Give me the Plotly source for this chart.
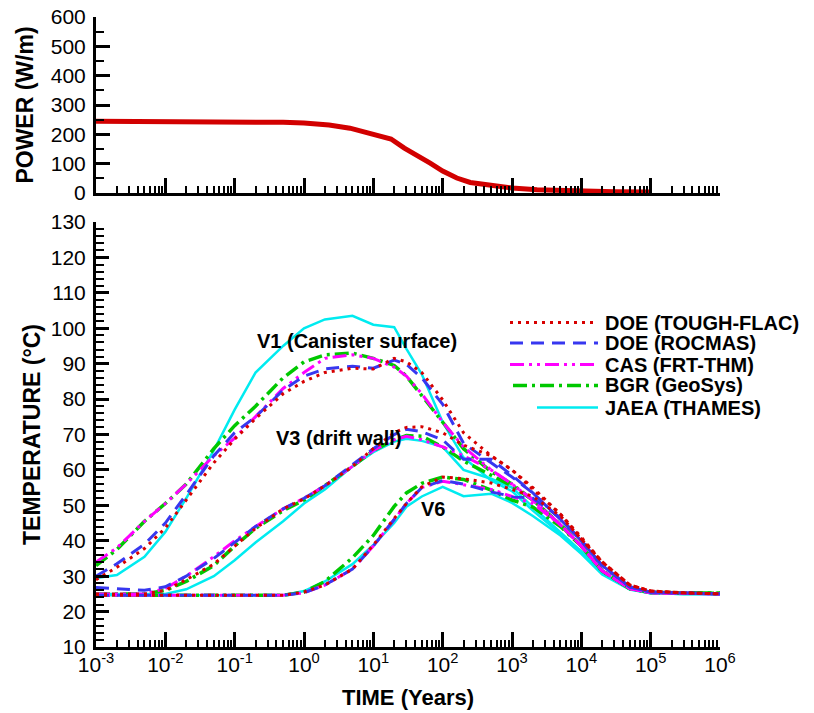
import plotly.graph_objects as go

# Heat output of the canister
power_time = [0.001, 0.01, 0.1, 0.5, 1, 2.3, 4.6, 10, 18, 28, 43, 66, 100, 160,
              250, 500, 1000, 2300, 5600, 1e4, 3e4, 1e5]
power_wm = [245, 245, 244, 241, 239, 232, 221, 198, 184, 153, 125, 102, 75, 51,
            36, 25, 17, 11, 8, 6, 4, 3]

# Time points (years) shared by all temperature curves
time_yr = [0.001, 0.002, 0.005, 0.01, 0.02, 0.05, 0.1, 0.2, 0.5, 1, 2, 5, 10, 20, 30,
           50, 100, 200, 500, 1e3, 2e3, 5e3, 1e4, 2e4, 5e4, 1e5, 3e5, 1e6]

# V1 (canister surface)
v1_doe_tf = [29, 32.5, 37.8, 43.6, 51.5, 62, 68.7, 74.5, 81.5, 85, 87.5, 88.7, 88.5, 91.5,
             90.5, 87.5, 79.8, 70.5, 64, 60, 54.5, 47.5, 40.5, 34, 27.5, 25.8, 25.3, 25]
v1_doe_rocmas = [30, 33.5, 39, 45, 53, 64, 70.5, 75, 82.5, 86.5, 88.5, 89.3, 88.7, 91,
                 89.8, 86, 78.5, 67.5, 62, 58, 53.5, 46, 40, 33, 27, 25.5, 25.2, 25]
v1_cas = [34, 38, 45.5, 50.5, 56, 64, 69, 75, 83, 87.5, 91.5, 92.5, 91.5, 89,
          86.5, 81.5, 73.5, 66.5, 60, 56, 51.5, 44.5, 38.5, 31.5, 26.5, 25.3, 25.1, 25]
v1_bgr = [33, 37.5, 45.5, 50.5, 56, 66, 72.5, 78, 86, 90.5, 92.5, 93, 91.5, 89.5,
          86.5, 81, 73.5, 66, 59.5, 56, 51.5, 44.5, 38.5, 31.5, 26.5, 25.4, 25.2, 25.2]
v1_jaea = [29.5, 30.3, 35.5, 42.5, 52, 65.5, 77, 87.5, 95, 100, 102.5, 103.5, 101, 100.3,
           94.2, 87, 73.5, 63.5, 57, 54, 48.5, 42, 36.8, 30.8, 26.3, 25.2, 25, 25]

# V3 (drift wall)
v3_doe_tf = [25, 25, 25, 26, 29, 33.4, 38.5, 43.5, 49, 51.8, 55.5, 61, 66, 70.5,
             72, 72.2, 70.5, 67, 64, 60, 55, 47.5, 41, 34, 27.5, 25.8, 25.3, 25]
v3_doe_rocmas = [26.8, 26.5, 26, 27, 30, 35, 39.5, 44, 49, 52, 55.5, 61.5, 66, 70,
                 71.5, 70.8, 68.5, 63, 63, 58.5, 53.5, 46, 40, 33, 27, 25.5, 25.2, 25]
v3_cas = [25, 25, 25, 26.5, 30, 35.5, 40, 44, 49, 52, 55.5, 61, 65.5, 68.5,
          69.5, 68.5, 66.5, 64, 60, 56, 51.5, 44.5, 38.5, 31.5, 26.5, 25.3, 25.1, 25]
v3_bgr = [25, 25, 25, 26, 28.5, 33, 38.5, 43.5, 48.5, 51.5, 55.5, 61, 65.5, 68.5,
          69.7, 69.5, 66.5, 62.5, 58.5, 55.5, 51.5, 44.5, 38.5, 31.5, 26.5, 25.4, 25.2, 25.2]
v3_jaea = [25, 25, 25, 25, 26.3, 30, 34.5, 39.5, 45.5, 50.5, 54.5, 61, 65, 68,
           68.8, 68.2, 66.5, 60, 57.5, 55, 49.5, 42.5, 37, 31, 26.4, 25.2, 25, 25]

# V6
v6_doe_tf = [24.6, 24.6, 24.6, 24.6, 24.6, 24.6, 24.6, 24.6, 24.6, 25.5, 27.5, 32, 38.8, 46.3,
             50.5, 55.2, 58, 57.5, 56.3, 54.5, 52.5, 47, 40.5, 34, 27.5, 25.8, 25.3, 25]
v6_doe_rocmas = [24.6, 24.6, 24.6, 24.6, 24.6, 24.6, 24.6, 24.6, 24.6, 25.3, 27.5, 32, 38.5, 46,
                 50.5, 55, 57, 56, 53.8, 52.5, 52, 46.5, 40, 33, 27, 25.5, 25.2, 25]
v6_cas = [24.6, 24.6, 24.6, 24.6, 24.6, 24.6, 24.6, 24.6, 24.6, 25.3, 27.5, 32, 38.5, 46,
          50.5, 55, 56.8, 55.8, 54.5, 52.5, 50.5, 44.5, 38.5, 31.5, 26.5, 25.3, 25.1, 25]
v6_bgr = [24.6, 24.6, 24.6, 24.6, 24.6, 24.6, 24.6, 24.6, 24.6, 25.5, 28.5, 35.2, 41.5, 49.7,
          53.5, 56.2, 58, 57.3, 54.3, 51.5, 49.5, 44, 38.5, 31.5, 26.5, 25.4, 25.2, 25.2]
v6_jaea = [24.6, 24.6, 24.6, 24.6, 24.6, 24.6, 24.6, 24.6, 24.6, 25.8, 28.5, 33.4, 38.8, 45,
           49.6, 52.5, 55.2, 52.6, 53.3, 50.7, 47, 41.5, 36.3, 30.5, 26.2, 25.2, 25, 25]

decades = [1e-3, 1e-2, 1e-1, 1, 10, 100, 1e3, 1e4, 1e5, 1e6]
decade_labels = ['10<sup>-3</sup>', '10<sup>-2</sup>', '10<sup>-1</sup>', '10<sup>0</sup>',
                 '10<sup>1</sup>', '10<sup>2</sup>', '10<sup>3</sup>', '10<sup>4</sup>',
                 '10<sup>5</sup>', '10<sup>6</sup>']
minor_vals = [m * d for d in decades[:-1] for m in range(2, 10)]

FONT = 'Liberation Sans, Arial, sans-serif'

# name, colour, dash, width, (V1, V3, V6) -- listed in legend order
models = [
    ('DOE (TOUGH-FLAC)', 'rgb(215,0,0)', '3px,5px', 3, (v1_doe_tf, v3_doe_tf, v6_doe_tf)),
    ('DOE (ROCMAS)', 'rgb(55,55,240)', '13px,8px', 3, (v1_doe_rocmas, v3_doe_rocmas, v6_doe_rocmas)),
    ('CAS (FRT-THM)', 'rgb(255,0,255)', '14px,5px,3px,5px,3px,5px', 3, (v1_cas, v3_cas, v6_cas)),
    ('BGR (GeoSys)', 'rgb(0,200,0)', '14px,5px,3px,5px', 3.5, (v1_bgr, v3_bgr, v6_bgr)),
    ('JAEA (THAMES)', 'rgb(0,235,240)', 'solid', 2.5, (v1_jaea, v3_jaea, v6_jaea)),
]

fig = go.Figure()

fig.add_trace(go.Scatter(x=power_time, y=power_wm, mode='lines', xaxis='x', yaxis='y',
                         line=dict(color='rgb(210,0,0)', width=5), showlegend=False))

# draw cyan first so the dotted / dashed lines stay on top
for name, color, dash, width, curves in reversed(models):
    for temps in curves:
        fig.add_trace(go.Scatter(
            x=time_yr, y=temps, mode='lines', xaxis='x2', yaxis='y2',
            name=name, showlegend=False,
            line=dict(color=color, dash=dash, width=width)))

# plot area in window pixels: x 96..720, y 17..647 (body margin removed below)
FIG_W, FIG_H = 814, 713
L, T, R, B = 96, 17, 94, 66
W, H = FIG_W - L - R, FIG_H - T - B


def px(x):
    return (x - L) / W


def py(y):
    return (FIG_H - B - y) / H


# hand-made legend box (plotly's own legend rows are too tall here)
legend_rows = [322.5, 343, 364.5, 385.5, 407.5]
legend_starts = [510, 510, 510, 513, 537]
shapes = []
annotations = []
for (name, color, dash, width, _), row, x0 in zip(models, legend_rows, legend_starts):
    shapes.append(dict(type='line', xref='paper', yref='paper', x0=px(x0), x1=px(598),
                       y0=py(row), y1=py(row), line=dict(color=color, dash=dash, width=width)))
    annotations.append(dict(xref='paper', yref='paper', x=px(603), y=py(row), xanchor='left',
                            yanchor='middle', text='<b>%s</b>' % name, showarrow=False,
                            font=dict(family=FONT, size=20, color='black')))

annotations += [
    dict(x=0.766, y=96.4, xref='x2', yref='y2', text='<b>V1 (Canister surface)</b>',
         showarrow=False, font=dict(family=FONT, size=20)),
    dict(x=0.51, y=69, xref='x2', yref='y2', text='<b>V3 (drift wall)</b>',
         showarrow=False, font=dict(family=FONT, size=20)),
    dict(x=1.86, y=48.9, xref='x2', yref='y2', text='<b>V6</b>',
         showarrow=False, font=dict(family=FONT, size=20)),
]

axis_common = dict(showline=True, linewidth=3, linecolor='black', mirror=False,
                   showgrid=False, zeroline=False, ticks='inside', tickcolor='black',
                   automargin=False,
                   tickfont=dict(family=FONT, size=21, color='black'))

fig.update_layout(
    width=FIG_W, height=FIG_H,
    margin=dict(l=L, r=R, t=T, b=B),
    paper_bgcolor='white', plot_bgcolor='white',
    font=dict(family=FONT, color='black'),
    showlegend=False,
    xaxis=dict(axis_common, type='log', range=[-3, 6], domain=[0, 1], anchor='y',
               tickvals=decades, showticklabels=False, ticklen=15, tickwidth=3,
               minor=dict(tickvals=minor_vals, ticks='inside', ticklen=7, tickwidth=1.5,
                          tickcolor='black', showgrid=False)),
    yaxis=dict(axis_common, range=[0, 600], domain=[py(193), 1], anchor='x',
               tickvals=[0, 100, 200, 300, 400, 500, 600], ticklen=14, tickwidth=3,
               ticklabelstandoff=3,
               minor=dict(dtick=50, ticks='inside', ticklen=8, tickwidth=1.5,
                          tickcolor='black', showgrid=False),
               title=dict(text='<b>POWER (W/m)</b>', font=dict(family=FONT, size=23),
                          standoff=11)),
    xaxis2=dict(axis_common, type='log', range=[-3, 6], domain=[0, 1], anchor='y2',
                tickvals=decades, ticktext=decade_labels, ticklen=15, tickwidth=3,
                ticklabelstandoff=-3,
                minor=dict(tickvals=minor_vals, ticks='inside', ticklen=7, tickwidth=1.5,
                           tickcolor='black', showgrid=False),
                title=dict(text='<b>TIME (Years)</b>', font=dict(family=FONT, size=22),
                           standoff=15)),
    yaxis2=dict(axis_common, range=[10, 130], domain=[0, py(222)], anchor='x2',
                dtick=10, ticklen=13, tickwidth=3, ticklabelstandoff=3,
                minor=dict(dtick=2, ticks='inside', ticklen=8, tickwidth=1.5,
                           tickcolor='black', showgrid=False),
                title=dict(text='<b>TEMPERATURE (°C)</b>', font=dict(family=FONT, size=23),
                           standoff=4)),
    shapes=shapes,
    annotations=annotations,
)

# the default page has an 8px body margin; drop it so the figure fills the window
fig.write_html('out.html', config={'displayModeBar': False},
               post_script="document.body.style.margin = '0';")
